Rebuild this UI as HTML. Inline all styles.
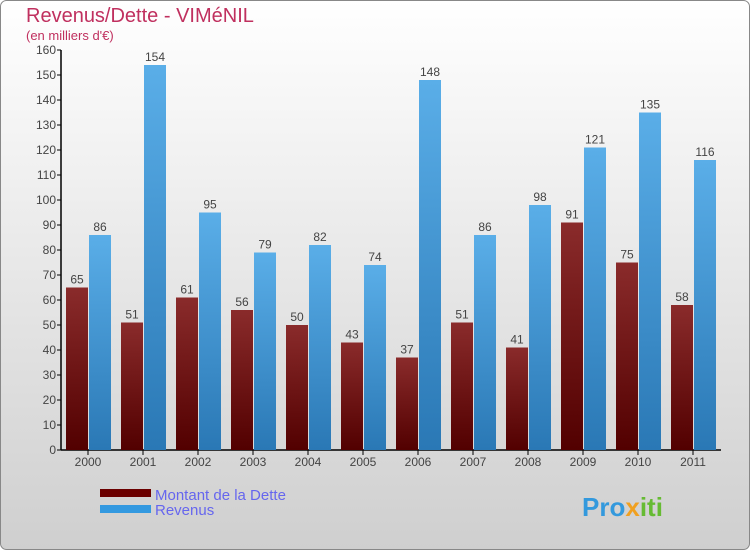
<!DOCTYPE html>
<html><head><meta charset="utf-8"><style>
body{margin:0;width:750px;height:550px;overflow:hidden;font-family:"Liberation Sans",sans-serif}
</style></head><body>
<svg width="750" height="550" xmlns="http://www.w3.org/2000/svg">
<defs>
<linearGradient id="bg" x1="0" y1="0" x2="0" y2="1"><stop offset="0" stop-color="#ffffff"/><stop offset="1" stop-color="#cfcfcf"/></linearGradient>
<linearGradient id="gd" x1="0" y1="0" x2="0" y2="1"><stop offset="0" stop-color="#8a2b2b"/><stop offset="1" stop-color="#520000"/></linearGradient>
<linearGradient id="gr" x1="0" y1="0" x2="0" y2="1"><stop offset="0" stop-color="#5aaee8"/><stop offset="1" stop-color="#2a78b5"/></linearGradient>
</defs>
<rect x="0.5" y="0.5" width="749" height="549" rx="6" fill="url(#bg)" stroke="#888"/>
<text x="26" y="22" font-size="20" fill="#c0305f">Revenus/Dette - VIMéNIL</text>
<text x="26" y="40" font-size="13" fill="#c0305f">(en milliers d'€)</text>
<g id="plot"></g>
<rect x="100" y="489" width="51" height="8" fill="#6b0000"/>
<rect x="100" y="505" width="51" height="8" fill="#3399e0"/>
<text x="155" y="500" font-size="15" fill="#6666ee">Montant de la Dette</text>
<text x="155" y="515" font-size="15" fill="#6666ee">Revenus</text>
<text x="582" y="516" font-size="26" font-weight="bold" fill="#3399dd">Pro<tspan fill="#f0a020">x</tspan><tspan fill="#66bb33">iti</tspan></text>
</svg>
<script>
const years=["2000","2001","2002","2003","2004","2005","2006","2007","2008","2009","2010","2011"];
const dette=[65,51,61,56,50,43,37,51,41,91,75,58];
const revenus=[86,154,95,79,82,74,148,86,98,121,135,116];
const ticks=[0,10,20,30,40,50,60,70,80,90,100,110,120,130,140,150,160];
const NS="http://www.w3.org/2000/svg";
const g=document.getElementById('plot');
const x0=61,step=55,y=v=>450-v*2.5;
function mk(t,a,p){const e=document.createElementNS(NS,t);for(const k in a)e.setAttribute(k,a[k]);(p||g).appendChild(e);return e;}
const ax=mk('line',{x1:x0,y1:50,x2:x0,y2:450,stroke:'#000','stroke-width':1.5});


const bx=mk('line',{x1:x0,y1:450,x2:x0+12*step,y2:450,stroke:'#000','stroke-width':1.5});


ticks.forEach(t=>{
 const l=mk('line',{x1:x0-4,y1:y(t),x2:x0,y2:y(t),stroke:'#000'});
 
 
 const tx=mk('text',{x:x0-5,y:y(t)+4,'font-size':12,fill:'#444','text-anchor':'end'});
 tx.textContent=t;
 
 
});
years.forEach((yr,i)=>{
 const c=x0+i*step+27;
 const tk=mk('line',{x1:c,y1:450,x2:c,y2:455,stroke:'#000'});
 
 
 const lb=mk('text',{x:c,y:466,'font-size':12,fill:'#444','text-anchor':'middle'});
 lb.textContent=yr;
 
 
 [[dette[i],c-22,'url(#gd)','bar-dette'],[revenus[i],c+1,'url(#gr)','bar-revenus']].forEach(([v,bxp,f,n])=>{
  const r=mk('rect',{x:bxp,y:y(v),width:22,height:v*2.5,fill:f});
  
  
  const vt=mk('text',{x:bxp+11,y:y(v)-4,'font-size':12,fill:'#444','text-anchor':'middle'});
  vt.textContent=v;
  
  
 });
});
</script>
</body></html>
